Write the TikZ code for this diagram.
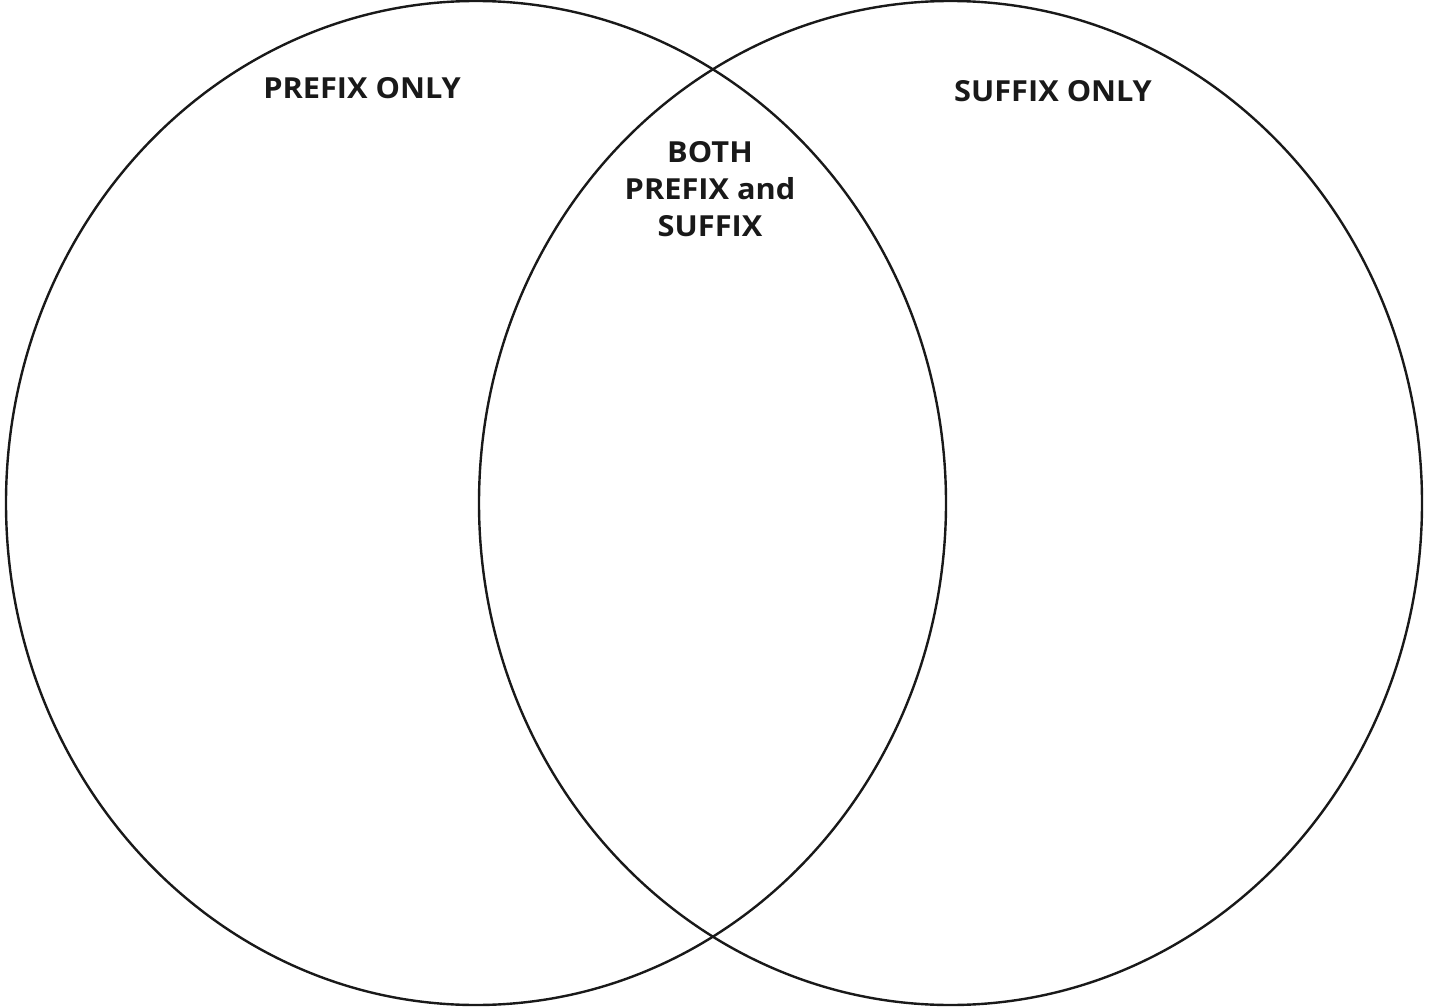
\documentclass[tikz,border=0pt]{standalone}
\usepackage{fontspec}
\newfontfamily\lblfont{Open Sans Bold}[FakeStretch=1.06]
\begin{document}
\begin{tikzpicture}[x=1pt,y=-1pt,
  ring/.style={draw=black!90, line width=2.4pt},
  lbl/.style={font=\lblfont\fontsize{29}{37}\selectfont, text=black!90, align=center, inner sep=0pt}]
\useasboundingbox (0,0) rectangle (1432,1008);
\draw[ring] (476,503) ellipse [x radius=470, y radius=502];
\draw[ring] (950.5,503) ellipse [x radius=471.5, y radius=502];
\node[lbl] (pre) at (362,88) {PREFIX ONLY};
\node[lbl] (suf) at (1053,91) {SUFFIX ONLY};
\node[lbl] (both) at (710,189) {BOTH\\PREFIX and\\SUFFIX};
\end{tikzpicture}
\end{document}
